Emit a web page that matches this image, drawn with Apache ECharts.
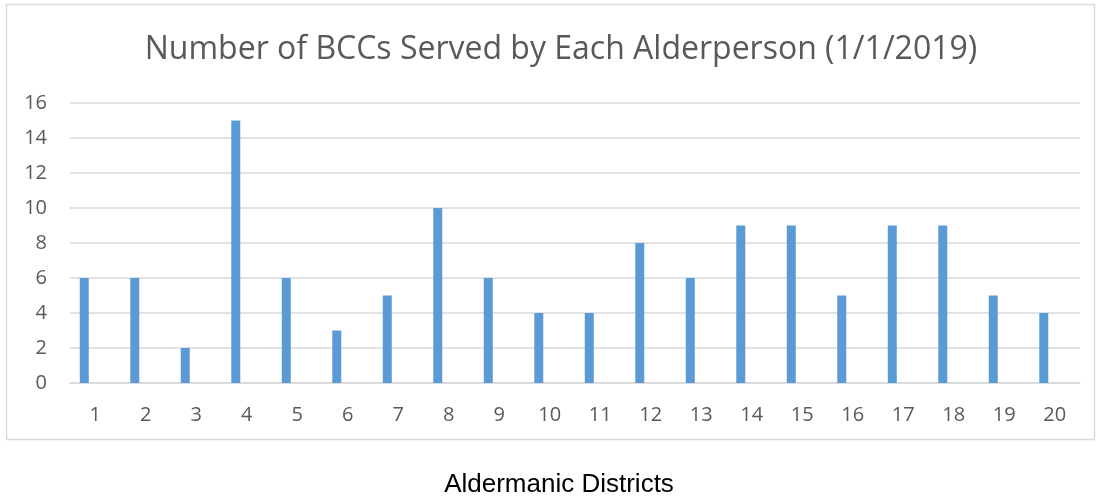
<!DOCTYPE html>
<html>
<head>
<meta charset="utf-8">
<script src="https://cdn.jsdelivr.net/npm/echarts@6/dist/echarts.min.js"></script>
<style>
  html, body { margin: 0; padding: 0; background: #fff; }
  #chart { width: 1101px; height: 504px; }
</style>
</head>
<body>
<div id="chart"></div>
<script>
const districts = ['1', '2', '3', '4', '5', '6', '7', '8', '9', '10',
  '11', '12', '13', '14', '15', '16', '17', '18', '19', '20']
const bccCounts = [6, 6, 2, 15, 6, 3, 5, 10, 6, 4, 4, 8, 6, 9, 9, 5, 9, 9, 5, 4]
// Excel chart carries an empty second series, which pushes the bars left
const emptySeries = districts.map(() => null)
const yTicks = { min: 0, max: 16, interval: 2 }

const chart = echarts.init(document.getElementById('chart'))
const labelColor = '#595959'
const lineColor = '#d9d9d9'

chart.setOption({
  backgroundColor: '#fff',
  animation: false,
  title: {
    text: 'Number of BCCs Served by Each Alderperson (1/1/2019)',
    left: 556,
    textAlign: 'center',
    top: 29,
    textStyle: { color: labelColor, fontSize: 32, fontWeight: 'normal', fontFamily: 'Open Sans' },
  },
  graphic: [
    {
      type: 'rect',
      shape: { x: 6.5, y: 4.5, width: 1088, height: 435 },
      style: { fill: 'none', stroke: lineColor, lineWidth: 1.5 },
      z: -1,
    },
    {
      type: 'text',
      x: 559,
      y: 472,
      style: { text: 'Aldermanic Districts', fill: '#000', fontSize: 26, fontFamily: 'Liberation Sans', align: 'center' },
    },
  ],
  grid: { left: 70, right: 21, top: 103, bottom: 121 },
  xAxis: {
    type: 'category',
    data: districts,
    axisLine: { lineStyle: { color: lineColor, width: 1.5 } },
    axisTick: { show: false },
    axisLabel: { color: labelColor, fontSize: 20, fontFamily: 'Open Sans', margin: 22 },
  },
  yAxis: {
    type: 'value',
    ...yTicks,
    axisLine: { show: false },
    axisTick: { show: false },
    splitLine: { lineStyle: { color: lineColor, width: 1.5 } },
    axisLabel: { color: labelColor, fontSize: 20, fontFamily: 'Open Sans', margin: 23 },
  },
  series: [
    {
      type: 'bar',
      data: bccCounts,
      barWidth: 9,
      barGap: '144%',
      itemStyle: { color: '#5b9bd5' },
    },
    {
      type: 'bar',
      data: emptySeries,
      barWidth: 9,
      itemStyle: { color: '#ed7d31' },
    },
  ],
})
</script>
</body>
</html>
